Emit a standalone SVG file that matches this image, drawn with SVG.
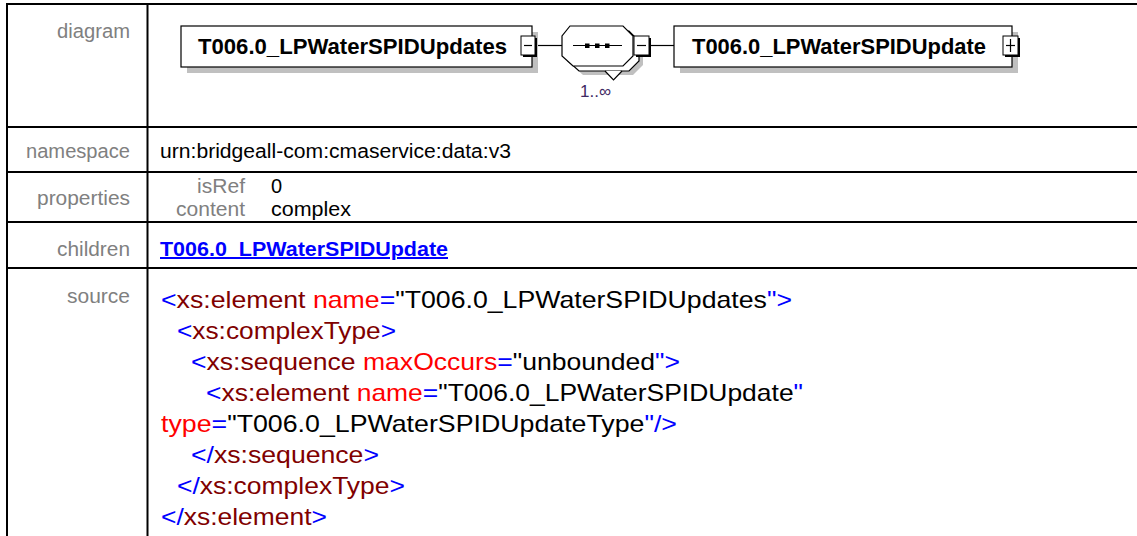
<svg xmlns="http://www.w3.org/2000/svg" width="1137" height="536" viewBox="0 0 1137 536">
<style>
.grid{stroke:#000;stroke-width:2;fill:none}
.lbl{font-family:"Liberation Sans",Arial,sans-serif;font-size:20px;fill:#808080}
.val{font-family:"Liberation Sans",Arial,sans-serif;font-size:20px;fill:#000}
.lnk{font-family:"Liberation Sans",Arial,sans-serif;font-size:20px;font-weight:bold;fill:#0000ff;text-decoration:underline}
.src{font-family:"Liberation Sans",Arial,sans-serif;font-size:24px;fill:#000}
.b{fill:#0000ff}.e{fill:#800000}.a{fill:#ff0000}
.shadow{fill:#c0c0c0}
.box{fill:#fff;stroke:#000;stroke-width:1.2}
.ntxt{font-family:"Liberation Sans",Arial,sans-serif;font-size:22px;font-weight:bold;fill:#000}
.btn{fill:#fff;stroke:#000;stroke-width:1}
.btnsh{fill:#000}
.sign{stroke:#000;stroke-width:1.2}
.conn{stroke:#000;stroke-width:1.2}
.card{font-family:"Liberation Sans",Arial,sans-serif;font-size:17px;fill:#3f2a63}
</style>
<rect width="1137" height="536" fill="#fff"/>
<g id="table">
<line class="grid" x1="6" y1="4" x2="1137" y2="4"/>
<line class="grid" x1="7" y1="3" x2="7" y2="536"/>
<line class="grid" x1="147.5" y1="3" x2="147.5" y2="536"/>
<line class="grid" x1="6" y1="127" x2="1137" y2="127"/>
<line class="grid" x1="6" y1="172" x2="1137" y2="172"/>
<line class="grid" x1="6" y1="222" x2="1137" y2="222"/>
<line class="grid" x1="6" y1="268" x2="1137" y2="268"/>
</g>
<g id="labels">
<text class="lbl" x="130" y="38" text-anchor="end" textLength="73" lengthAdjust="spacingAndGlyphs">diagram</text>
<text class="lbl" x="130" y="158" text-anchor="end" textLength="104" lengthAdjust="spacingAndGlyphs">namespace</text>
<text class="lbl" x="130" y="205" text-anchor="end" textLength="93" lengthAdjust="spacingAndGlyphs">properties</text>
<text class="lbl" x="130" y="256" text-anchor="end" textLength="73" lengthAdjust="spacingAndGlyphs">children</text>
<text class="lbl" x="130" y="303" text-anchor="end" textLength="63" lengthAdjust="spacingAndGlyphs">source</text>
</g>
<g id="values">
<text class="val" x="160" y="158" textLength="351" lengthAdjust="spacingAndGlyphs">urn:bridgeall-com:cmaservice:data:v3</text>
<text class="lbl" x="245" y="193" text-anchor="end" textLength="48" lengthAdjust="spacingAndGlyphs">isRef</text>
<text class="lbl" x="245" y="216" text-anchor="end" textLength="69" lengthAdjust="spacingAndGlyphs">content</text>
<text class="val" x="271" y="193">0</text>
<text class="val" x="271" y="216" textLength="80" lengthAdjust="spacingAndGlyphs">complex</text>
<text class="lnk" x="160" y="256" textLength="288" lengthAdjust="spacingAndGlyphs">T006.0_LPWaterSPIDUpdate</text>
</g>
<g id="source">
<text class="src" x="161" y="308" textLength="631" lengthAdjust="spacingAndGlyphs"><tspan class="b">&lt;</tspan><tspan class="e">xs:element</tspan> <tspan class="a">name</tspan><tspan class="b">=</tspan>"T006.0_LPWaterSPIDUpdates<tspan class="b">"&gt;</tspan></text>
<text class="src" x="177" y="339" textLength="219" lengthAdjust="spacingAndGlyphs"><tspan class="b">&lt;</tspan><tspan class="e">xs:complexType</tspan><tspan class="b">&gt;</tspan></text>
<text class="src" x="191" y="370" textLength="489" lengthAdjust="spacingAndGlyphs"><tspan class="b">&lt;</tspan><tspan class="e">xs:sequence</tspan> <tspan class="a">maxOccurs</tspan><tspan class="b">=</tspan>"unbounded<tspan class="b">"&gt;</tspan></text>
<text class="src" x="206" y="401" textLength="597" lengthAdjust="spacingAndGlyphs"><tspan class="b">&lt;</tspan><tspan class="e">xs:element</tspan> <tspan class="a">name</tspan><tspan class="b">=</tspan>"T006.0_LPWaterSPIDUpdate<tspan class="b">"</tspan></text>
<text class="src" x="161" y="432" textLength="516" lengthAdjust="spacingAndGlyphs"><tspan class="a">type</tspan><tspan class="b">=</tspan>"T006.0_LPWaterSPIDUpdateType<tspan class="b">"/&gt;</tspan></text>
<text class="src" x="191" y="463" textLength="188" lengthAdjust="spacingAndGlyphs"><tspan class="b">&lt;/</tspan><tspan class="e">xs:sequence</tspan><tspan class="b">&gt;</tspan></text>
<text class="src" x="177" y="494" textLength="228" lengthAdjust="spacingAndGlyphs"><tspan class="b">&lt;/</tspan><tspan class="e">xs:complexType</tspan><tspan class="b">&gt;</tspan></text>
<text class="src" x="161" y="525" textLength="166" lengthAdjust="spacingAndGlyphs"><tspan class="b">&lt;/</tspan><tspan class="e">xs:element</tspan><tspan class="b">&gt;</tspan></text>
</g>
<g id="connectors">
<line class="conn" x1="536" y1="45.5" x2="562" y2="45.5"/>
<line class="conn" x1="651" y1="45.5" x2="674" y2="45.5"/>
</g>
<g id="node-updates">
<rect class="shadow" x="187" y="32" width="351" height="41"/>
<rect class="box" x="181" y="26" width="351" height="41"/>
<text class="ntxt" x="198" y="54" textLength="309" lengthAdjust="spacingAndGlyphs">T006.0_LPWaterSPIDUpdates</text>
<rect class="btnsh" x="523" y="38" width="14" height="19"/>
<rect class="btn" x="521" y="36" width="14" height="19"/>
<line class="sign" x1="524" y1="45.5" x2="532" y2="45.5"/>
</g>
<g id="sequence">
<polygon class="shadow" points="580,35 633,35 643,45 643,65 633,75 583,75 572,65 572,45"/>
<polygon class="box" points="576,31 629,31 639,41 639,61 629,71 579,71 568,61 568,41"/>
<polygon class="box" points="570,26 623,26 633,36 633,56 623,66 573,66 562,56 562,36"/>
<polyline fill="#fff" stroke="#000" stroke-width="1.2" points="605,71 613.5,80 622,71"/>
<line class="conn" x1="573" y1="45.5" x2="622" y2="45.5"/>
<rect x="585" y="43.5" width="4.5" height="4.5" fill="#000"/>
<rect x="595" y="43.5" width="4.5" height="4.5" fill="#000"/>
<rect x="605" y="43.5" width="4.5" height="4.5" fill="#000"/>
<rect class="btnsh" x="636" y="38" width="15" height="19"/>
<rect class="btn" x="634" y="36" width="15" height="19"/>
<line class="sign" x1="637" y1="45.5" x2="646" y2="45.5"/>
<text class="card" x="580" y="97">1..∞</text>
</g>
<g id="node-update">
<rect class="shadow" x="680" y="32" width="338" height="41"/>
<rect class="box" x="674" y="26" width="338" height="41"/>
<text class="ntxt" x="692" y="54" textLength="294" lengthAdjust="spacingAndGlyphs">T006.0_LPWaterSPIDUpdate</text>
<rect class="btnsh" x="1005" y="38" width="15" height="19"/>
<rect class="btn" x="1003" y="36" width="15" height="19"/>
<line class="sign" x1="1006" y1="45.5" x2="1015" y2="45.5"/>
<line class="sign" x1="1010.5" y1="39" x2="1010.5" y2="52"/>
</g>
</svg>
